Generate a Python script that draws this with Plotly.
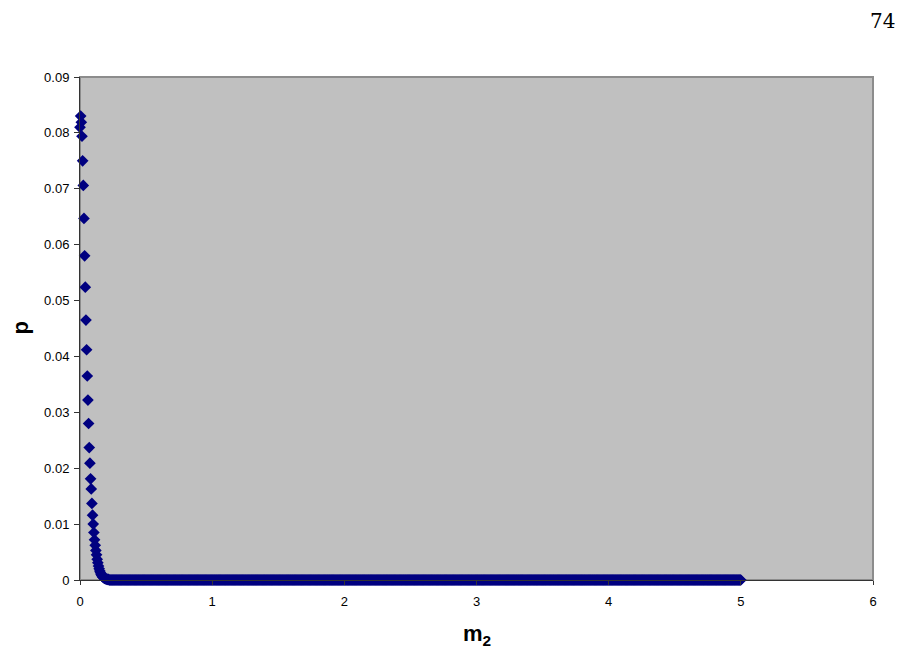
import plotly.graph_objects as go

# Head of the curve, step 0.005 in m2
m2_head = [0.000, 0.005, 0.010, 0.015, 0.020, 0.025, 0.030, 0.035, 0.040, 0.045,
           0.050, 0.055, 0.060, 0.065, 0.070, 0.075, 0.080, 0.085, 0.090, 0.095,
           0.100, 0.105, 0.110, 0.115, 0.120, 0.125, 0.130, 0.135, 0.140, 0.145,
           0.150, 0.155, 0.160, 0.165, 0.170, 0.175, 0.180, 0.185, 0.190, 0.195,
           0.200, 0.205, 0.210, 0.215, 0.220, 0.225, 0.230, 0.235, 0.240]
p_head = [0.0810, 0.0830, 0.0819, 0.0794, 0.0750, 0.0706, 0.0647, 0.0580, 0.0524, 0.0465,
          0.0412, 0.0365, 0.0322, 0.0280, 0.0237, 0.0209, 0.0181, 0.0163, 0.0137, 0.0116,
          0.0100, 0.0085, 0.0072, 0.0062, 0.0053, 0.0045, 0.0037, 0.0031, 0.0025, 0.0020,
          0.0016, 0.0013, 0.0010, 0.0008, 0.0006, 0.0005, 0.0004, 0.0003, 0.0003, 0.0002,
          0.0002, 0.0001, 0.0001, 0.0001, 0.0000, 0.0000, 0.0000, 0.0000, 0.0000]

# Tail: p is zero from 0.245 to 5 (grid step 0.005)
m2_tail = [round(0.245 + 0.005 * i, 4) for i in range(952)]
p_tail = [0.0] * len(m2_tail)

m2 = m2_head + m2_tail
p = p_head + p_tail

x_ticks = [0, 1, 2, 3, 4, 5, 6]
y_ticks = [0, 0.01, 0.02, 0.03, 0.04, 0.05, 0.06, 0.07, 0.08, 0.09]
y_labels = ["0", "0.01", "0.02", "0.03", "0.04", "0.05", "0.06", "0.07", "0.08", "0.09"]

fig = go.Figure()
fig.add_trace(go.Scatter(
    x=m2, y=p, mode="markers",
    marker=dict(symbol="diamond", size=9, color="#000080", line=dict(width=0)),
    cliponaxis=False, showlegend=False,
))

fig.update_layout(
    width=895, height=650,
    margin=dict(l=72, r=30, t=69, b=78),
    paper_bgcolor="white",
    plot_bgcolor="#C0C0C0",
    font=dict(family="Liberation Sans, Arial", size=13, color="black"),
    xaxis=dict(
        range=[0, 6], tickvals=x_ticks, ticktext=[str(v) for v in x_ticks],
        showgrid=False, zeroline=False, showline=True, linecolor="#333333", linewidth=1,
        ticks="outside", ticklen=4, tickcolor="#333333", ticklabelstandoff=5,
        automargin=False,
    ),
    yaxis=dict(
        range=[0, 0.09], tickvals=y_ticks, ticktext=y_labels,
        showgrid=False, zeroline=False, showline=True, linecolor="#333333", linewidth=1,
        ticks="outside", ticklen=5, tickcolor="#333333", ticklabelstandoff=2,
        automargin=False,
    ),
    shapes=[dict(type="rect", xref="paper", yref="paper", x0=0, y0=0, x1=1, y1=1,
                 line=dict(color="#8C8C8C", width=2), layer="below")],
    annotations=[
        dict(text="74", xref="paper", yref="paper", x=1.030, y=1.0, yshift=56,
             showarrow=False, xanchor="right", yanchor="middle",
             font=dict(family="DejaVu Serif", size=20, color="black")),
        dict(text="<b>p</b>", xref="paper", yref="paper", x=0, y=0.5, xshift=-60,
             textangle=-90, showarrow=False, xanchor="center", yanchor="middle",
             font=dict(family="Liberation Sans, Arial", size=22, color="black")),
        dict(text="<b>m<sub>2</sub></b>", xref="paper", yref="paper", x=0.5, y=0, yshift=-55,
             showarrow=False, xanchor="center", yanchor="middle",
             font=dict(family="Liberation Sans, Arial", size=22, color="black")),
    ],
)

fig.write_html("out.html")
